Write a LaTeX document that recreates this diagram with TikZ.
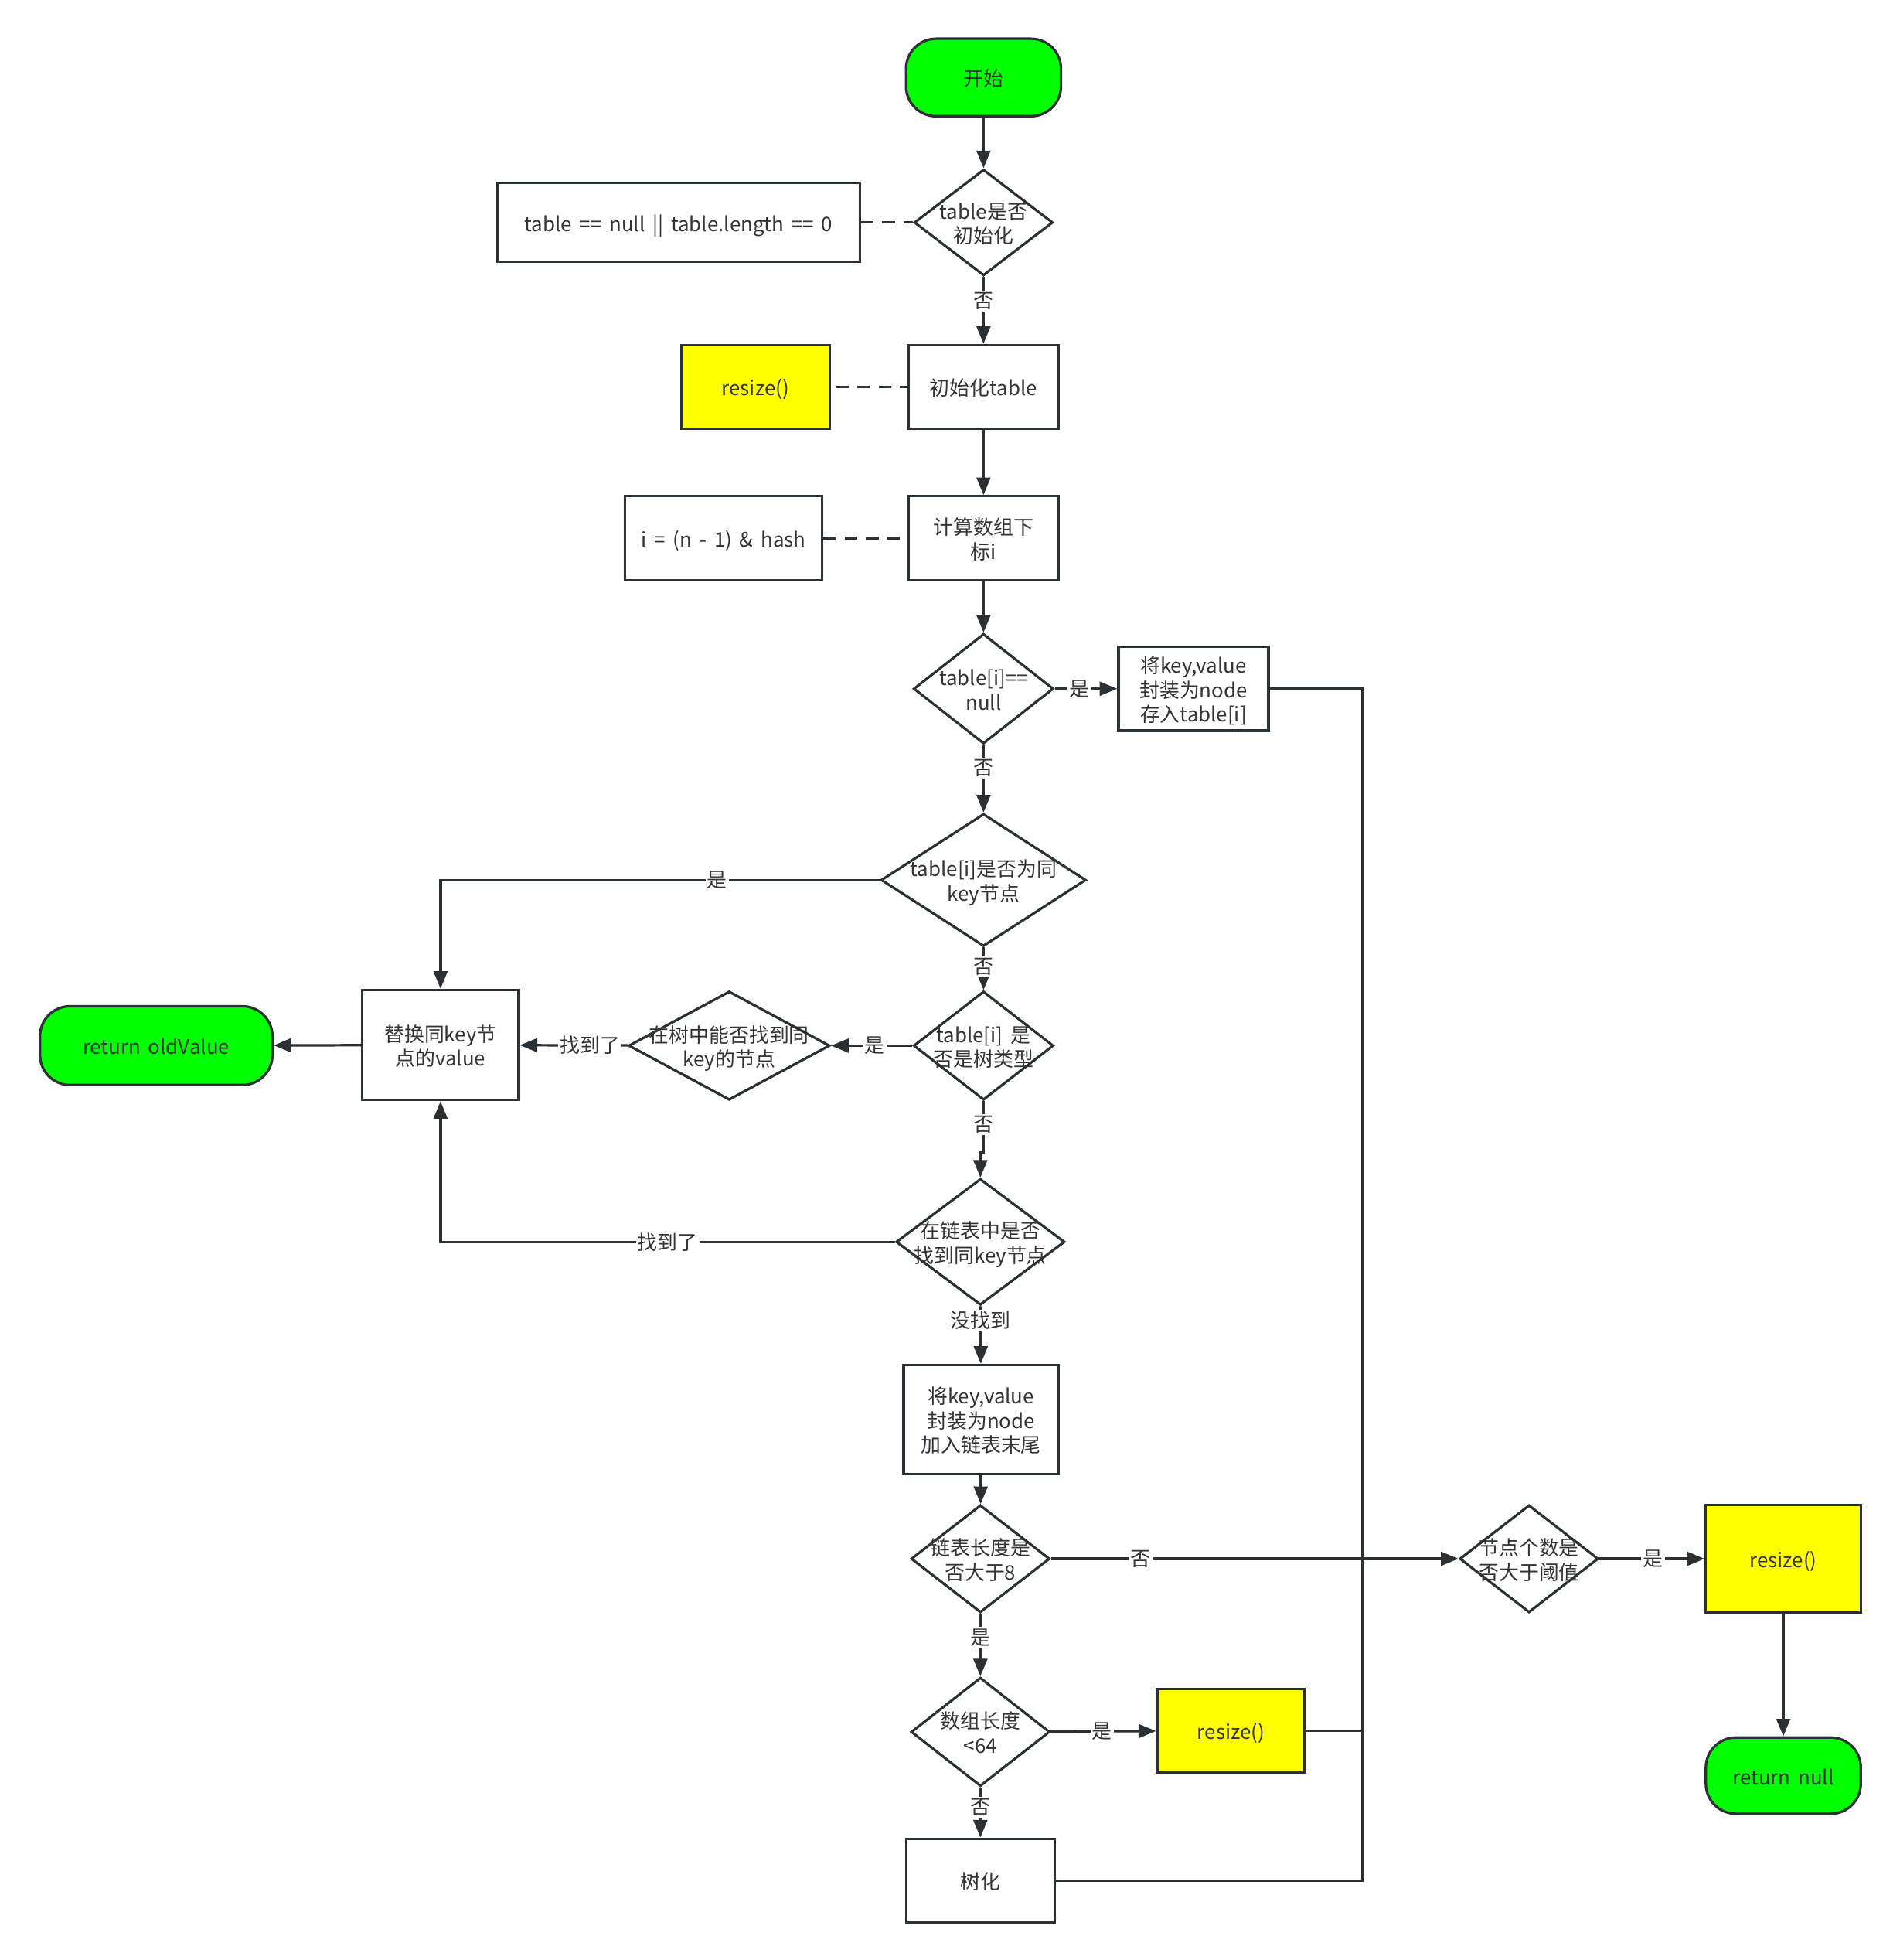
\documentclass[tikz,border=0pt]{standalone}
\usepackage{fontspec}
\setmainfont[WordSpace=1.7]{Noto Sans CJK SC}
\usetikzlibrary{shapes.geometric,arrows.meta}
\definecolor{ln}{HTML}{2B3034}
\definecolor{tx}{HTML}{333333}
\definecolor{gr}{HTML}{00FF00}
\definecolor{ye}{HTML}{FFFF00}
\newcommand\dt[1]{\makebox[0pt]{\raisebox{-7.5pt}[0pt][0pt]{\begin{tabular}{@{}c@{}}#1\end{tabular}}}}
\tikzset{
  base/.style={draw=ln, line width=2pt, inner sep=0pt, text=tx},
  box/.style={base, rectangle},
  ybox/.style={box, fill=ye},
  dia/.style={base, diamond},
  term/.style={base, rectangle, rounded corners=24pt, fill=gr},
  arr/.style={draw=ln, line width=2pt, -{Triangle[length=14pt,width=11pt]}},
  ln/.style={draw=ln, line width=2pt},
  dsh/.style={draw=ln, line width=2pt, dash pattern=on 10pt off 7pt},
  lab/.style={fill=white, inner sep=1.5pt, text=tx}
}
\begin{document}
\begin{tikzpicture}[x=1pt, y=-1pt, font=\fontsize{16}{19.5}\selectfont]
\useasboundingbox (0,0) rectangle (1520,1568);
% nodes
\node[term, minimum width=124, minimum height=62] (start) at (787,62) {\dt{开始}};
\node[dia, minimum width=111, minimum height=85] (d1) at (787,178) {\dt{table是否\\初始化}};
\node[box, minimum width=290, minimum height=63] (tcond) at (543,178) {\dt{table == null || table.length == 0}};
\node[box, minimum width=120, minimum height=67] (init) at (787,309.5) {\dt{初始化table}};
\node[ybox, minimum width=119, minimum height=67] (rs1) at (604.5,309.5) {\dt{resize()}};
\node[box, minimum width=120, minimum height=67] (calc) at (787,430.5) {\dt{计算数组下\\标i}};
\node[box, minimum width=158, minimum height=67] (hash) at (579,430.5) {\dt{i = (n - 1) \& hash}};
\node[dia, minimum width=112, minimum height=88] (d2) at (787,551) {\dt{table[i]==\\null}};
\node[box, minimum width=120, minimum height=67] (put) at (955,551) {\dt{将key,value\\封装为node\\存入table[i]}};
\node[dia, minimum width=164, minimum height=106] (d3) at (787,704) {\dt{table[i]是否为同\\key节点}};
\node[dia, minimum width=112, minimum height=87] (d4) at (787,836.5) {\dt{table[i] 是\\否是树类型}};
\node[dia, minimum width=161, minimum height=87] (d5) at (583.5,836.5) {\dt{在树中能否找到同\\key的节点}};
\node[box, minimum width=125, minimum height=88] (repl) at (352.5,836) {\dt{替换同key节\\点的value}};
\node[term, minimum width=186, minimum height=63] (ret1) at (125,836.5) {\dt{return oldValue}};
\node[dia, minimum width=135, minimum height=101] (d6) at (784.5,993.5) {\dt{在链表中是否\\找到同key节点}};
\node[box, minimum width=124, minimum height=87] (append) at (785,1135.5) {\dt{将key,value\\封装为node\\加入链表末尾}};
\node[dia, minimum width=111, minimum height=86] (d7) at (784.5,1247) {\dt{链表长度是\\否大于8}};
\node[dia, minimum width=111, minimum height=87] (d9) at (784.5,1385.5) {\dt{数组长度\\<64}};
\node[ybox, minimum width=118, minimum height=67] (rs2) at (985,1384.5) {\dt{resize()}};
\node[box, minimum width=119, minimum height=67] (tree) at (784.5,1504.5) {\dt{树化}};
\node[dia, minimum width=111, minimum height=86] (d8) at (1223.5,1247) {\dt{节点个数是\\否大于阈值}};
\node[ybox, minimum width=124, minimum height=86] (rs3) at (1427,1247) {\dt{resize()}};
\node[term, minimum width=124, minimum height=61] (ret2) at (1427,1420.5) {\dt{return null}};
\coordinate (bt) at (1090,551);
\coordinate (bb) at (1090,1504.5);
\coordinate (jog) at (787,922);
% connectors
\draw[arr] (start) -- (d1);
\draw[dsh] (tcond.east) -- (d1.west);
\draw[arr] (d1) -- node[lab,pos=0.36]{否} (init);
\draw[dsh] (rs1.east) ++(4,0) -- (init.west);
\draw[arr] (init) -- (calc);
\draw[dsh] (hash.east) -- (calc.west);
\draw[arr] (calc) -- (d2);
\draw[arr] (d2) -- node[lab,pos=0.4]{是} (put);
\draw[arr] (d2) -- node[lab,pos=0.34]{否} (d3);
\draw[arr] (d3.west) -- node[lab,pos=0.37]{是} (d3.west -| repl.north) -- (repl.north);
\draw[arr] (d3) -- node[lab,pos=0.45]{否} (d4);
\draw[arr] (d4) -- node[lab,pos=0.46]{是} (d5);
\draw[arr] (d5) -- node[lab,pos=0.35]{找到了} (repl);
\draw[arr] (repl) -- (ret1);
\draw[arr] (d4.south) -- node[lab,pos=0.45]{否} (jog) -| (d6.north);
\draw[arr] (d6.west) -- node[lab,pos=0.5]{找到了} (d6.west -| repl.south) -- (repl.south);
\draw[arr] (d6) -- node[lab,pos=0.25]{没找到} (append);
\draw[arr] (append) -- (d7);
\draw[arr] (d7) -- node[lab,pos=0.22]{否} (d8);
\draw[arr] (d7) -- node[lab,pos=0.38]{是} (d9);
\draw[arr] (d9) -- node[lab,pos=0.49]{是} (rs2);
\draw[arr] (d9) -- node[lab,pos=0.4]{否} (tree);
\draw[ln] (put.east) -- (bt) -- (bb) -- (tree.east);
\draw[ln] (rs2.east) -- (rs2.east -| bt);
\draw[arr] (d8) -- node[lab,pos=0.51]{是} (rs3);
\draw[arr] (rs3) -- (ret2);
\end{tikzpicture}
\end{document}
